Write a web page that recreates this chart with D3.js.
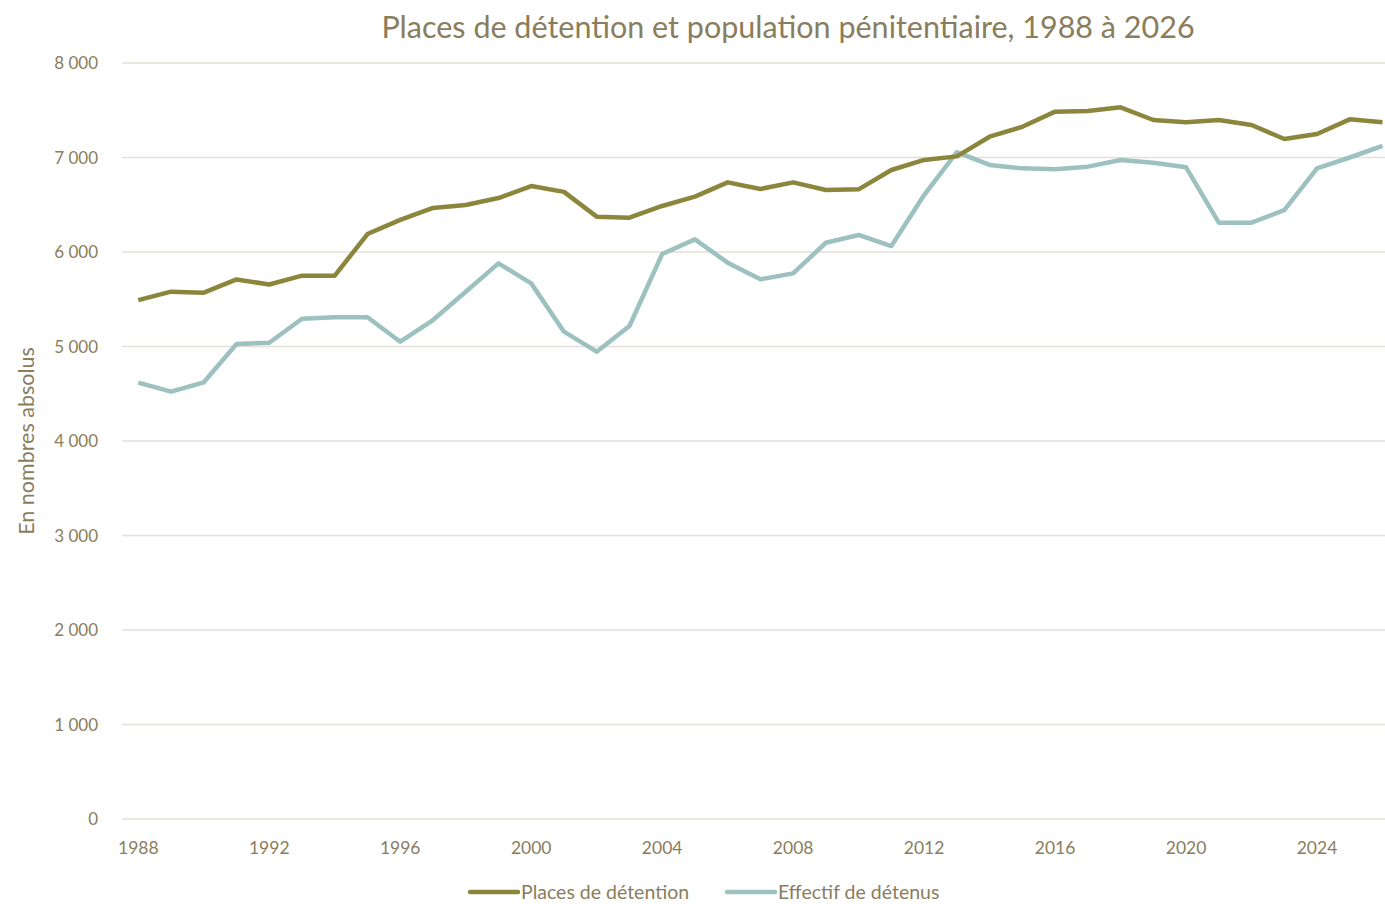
<!DOCTYPE html>
<html>
<head>
<meta charset="utf-8">
<script src="https://cdn.jsdelivr.net/npm/d3@7"></script>
<style>
  body { margin: 0; background: #fff; }
  text { font-family: Lato, "Open Sans", sans-serif; fill: #8a7d5c; }
</style>
</head>
<body>
<div id="chart"></div>
<script>
// Years on the x axis
const years = d3.range(1988, 2027);
const tickYears = [1988, 1992, 1996, 2000, 2004, 2008, 2012, 2016, 2020, 2024];
const yTicks = [0, 1000, 2000, 3000, 4000, 5000, 6000, 7000, 8000];

// Places de détention
const places = [5490, 5580, 5570, 5710, 5656, 5750, 5750, 6190, 6340, 6466,
  6497, 6571, 6698, 6636, 6374, 6363, 6487, 6586, 6737, 6667,
  6737, 6656, 6663, 6868, 6974, 7012, 7220, 7325, 7485, 7492,
  7531, 7397, 7372, 7397, 7344, 7196, 7249, 7404, 7372];

// Effectif de détenus
const detenus = [4617, 4522, 4621, 5026, 5040, 5294, 5309, 5309, 5051, 5280,
  5580, 5880, 5668, 5157, 4945, 5217, 5979, 6134, 5887, 5711,
  5774, 6098, 6180, 6063, 6603, 7056, 6921, 6885, 6875, 6903,
  6974, 6945, 6896, 6310, 6310, 6444, 6885, 7000, 7122];

const width = 1385, height = 904;
const svg = d3.select('#chart').append('svg')
    .attr('width', width)
    .attr('height', height);

// Scales
const x = d3.scalePoint().domain(years).range([138.3, 1382.5]);
const y = d3.scaleLinear().domain([0, 8000]).range([819, 63]);

// Grid lines
svg.append('g')
    .selectAll('line')
    .data(yTicks)
    .join('line')
    .attr('x1', 122)
    .attr('x2', 1385)
    .attr('y1', d => y(d))
    .attr('y2', d => y(d))
    .attr('stroke', '#e4e0d9')
    .attr('stroke-width', 1.3);

// Y tick labels (space as thousands separator)
const fmt = d => d3.format(',')(d).replace(/,/g, ' ');
svg.append('g')
    .selectAll('text')
    .data(yTicks)
    .join('text')
    .attr('x', 98)
    .attr('y', d => y(d) + 6)
    .attr('text-anchor', 'end')
    .attr('font-size', 17)
    .style('white-space', 'pre')
    .text(fmt);

// X tick labels
svg.append('g')
    .selectAll('text')
    .data(tickYears)
    .join('text')
    .attr('x', d => x(d))
    .attr('y', 854)
    .attr('text-anchor', 'middle')
    .attr('font-size', 17.5)
    .text(d => d);

// Axis title
svg.append('text')
    .attr('transform', 'translate(34,441) rotate(-90)')
    .attr('text-anchor', 'middle')
    .attr('font-size', 21.5)
    .text('En nombres absolus');

// Chart title
svg.append('text')
    .attr('x', 788)
    .attr('y', 38)
    .attr('text-anchor', 'middle')
    .attr('font-size', 30.5)
    .text('Places de détention et population pénitentiaire, 1988 à 2026');

// Lines
const series = [
    { name: 'Places de détention', values: places, color: '#8c863c' },
    { name: 'Effectif de détenus', values: detenus, color: '#9cc1bf' }
];

const line = d3.line()
    .x((d, i) => x(years[i]))
    .y(d => y(d));

svg.append('g')
    .selectAll('path')
    .data(series.slice().reverse())
    .join('path')
    .attr('d', d => line(d.values))
    .attr('fill', 'none')
    .attr('stroke', d => d.color)
    .attr('stroke-width', 4.5)
    .attr('stroke-linejoin', 'round');

// Legend
const legendX = [470, 727];
const legend = svg.append('g')
    .selectAll('g')
    .data(series)
    .join('g')
    .attr('transform', (d, i) => `translate(${legendX[i]},892)`);

legend.append('line')
    .attr('x1', 0)
    .attr('x2', 48)
    .attr('stroke', d => d.color)
    .attr('stroke-width', 4.5)
    .attr('stroke-linecap', 'round');

legend.append('text')
    .attr('x', 51)
    .attr('y', 7)
    .attr('font-size', 19.5)
    .text(d => d.name);
</script>
</body>
</html>
